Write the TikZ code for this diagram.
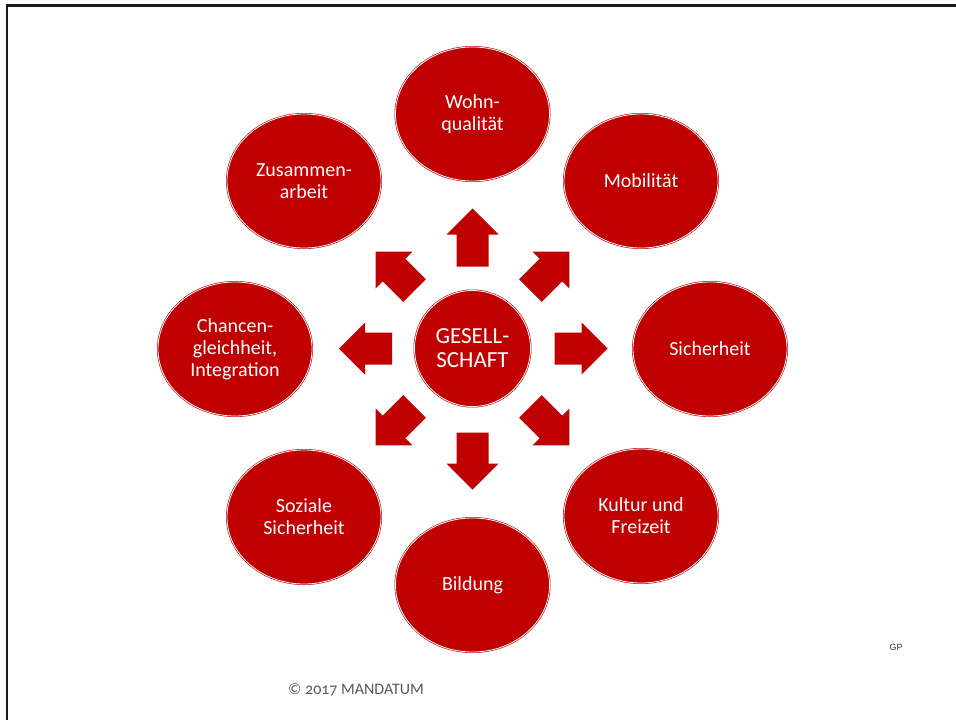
\documentclass[tikz,border=0pt]{standalone}
\usepackage{fontspec}
\setmainfont{Carlito}
\newfontfamily\gpfont{Liberation Sans}
\usetikzlibrary{shapes.geometric}
\definecolor{dred}{HTML}{C00000}
\definecolor{txtgray}{HTML}{595959}
\tikzset{
  bubble/.style={ellipse, fill=dred, draw=dred, double=white, double distance=0.8pt, line width=0.6pt,
    minimum width=154pt, minimum height=134pt, inner sep=0pt, text=white, align=center,
    font=\fontsize{20}{22}\selectfont},
  hub/.style={circle, fill=dred, draw=dred, double=white, double distance=0.8pt, line width=0.6pt,
    minimum size=116pt, inner sep=0pt, text=white, align=center,
    font=\fontsize{23}{24}\selectfont},
  blockarrow/.style={fill=dred},
  frame/.style={draw=black!90, line width=2.5pt}
}
\newcommand\blockarr[3]{%
  \begin{scope}[shift={(472.5,348.5)},rotate=#1]
    \fill[blockarrow] (#2,-16) -- ({#2+#3-26},-16) -- ({#2+#3-26},-26) -- ({#2+#3},0)
      -- ({#2+#3-26},26) -- ({#2+#3-26},16) -- (#2,16) -- cycle;
  \end{scope}}
\begin{document}
\begin{tikzpicture}[x=1pt,y=-1pt]
\useasboundingbox (0,0) rectangle (956,720);
\fill[white] (0,0) rectangle (956,720);
\draw[frame] (956,5.5) -- (7,5.5) -- (7,720);

\node[hub] (hub) at (472.5,348.5) {GESELL-\\SCHAFT};

\node[bubble] (wohn) at (472.5,114) {Wohn-\\qualität};
\node[bubble] (mob) at (641,181) {Mobilität};
\node[bubble] (sich) at (710,349) {Sicherheit};
\node[bubble] (kult) at (641,516) {Kultur und\\Freizeit};
\node[bubble] (bild) at (472.5,585) {Bildung};
\node[bubble] (soz) at (304,517) {Soziale\\Sicherheit};
\node[bubble] (chan) at (235,349) {Chancen-\\gleichheit,\\Integration};
\node[bubble] (zus) at (304,181) {Zusammen-\\arbeit};

\blockarr{90}{82}{58}
\blockarr{270}{84}{57}
\blockarr{0}{82}{53}
\blockarr{180}{80.5}{53}
\blockarr{45}{82}{55}
\blockarr{135}{82}{55}
\blockarr{225}{82}{55}
\blockarr{315}{82}{55}

\node[text=txtgray, font=\fontsize{16}{18}\selectfont\addfontfeatures{Numbers=OldStyle}] (copy) at (356,690) {© 2017 MANDATUM};
\node[text=black!80, font=\gpfont\fontsize{9}{10}\selectfont] (gp) at (896,647) {GP};
\end{tikzpicture}
\end{document}
